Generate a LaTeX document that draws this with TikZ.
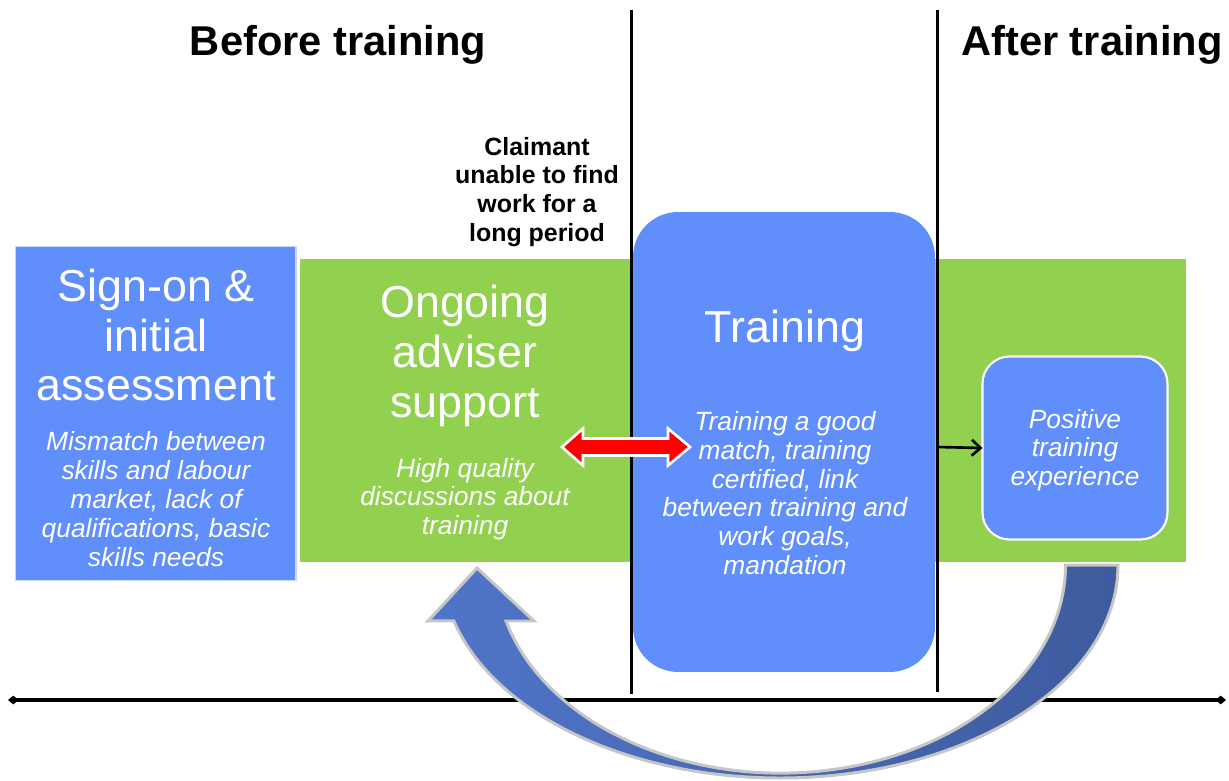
\documentclass[tikz,border=0pt]{standalone}
\usepackage{fontspec}
\setmainfont{Liberation Sans}
\usetikzlibrary{arrows.meta}
\definecolor{bandgreen}{RGB}{146,208,80}
\definecolor{boxblue}{RGB}{96,142,250}
\definecolor{loopleft}{RGB}{80,117,201}
\definecolor{loopright}{RGB}{62,91,158}

\begin{document}
\begin{tikzpicture}[x=0.02cm,y=-0.02cm,
	heading/.style={font=\fontsize{23.7}{28}\selectfont\bfseries},
	title/.style={text=white,align=center,font=\fontsize{25.5}{28.3}\selectfont},
	desc/.style={text=white,align=center,font=\fontsize{15}{16.4}\selectfont\itshape},
	note/.style={align=center,font=\fontsize{14.2}{16.4}\selectfont\bfseries},
	panel/.style={inner sep=0pt,outer sep=0pt},
	]
			\useasboundingbox (0,0) rectangle (1229,780);
			\def\lw{1.7pt};
			\node[panel, fill=bandgreen, minimum width=17.72cm, minimum height=6.06cm] (band) at (743,410.5) {};
			\node[panel, fill=boxblue, draw=boxblue!35, line width=0.6pt, minimum width=5.62cm, minimum height=6.7cm] (signon) at (155.5,413.5) {};
			\node[panel, fill=boxblue, rounded corners=0.9cm, minimum width=6.04cm, minimum height=9.2cm] (training) at (784,442) {};
			\node[panel, fill=boxblue, draw=white, line width=1.2pt, rounded corners=0.54cm, minimum width=3.7cm, minimum height=3.66cm] (positive) at (1075,448) {};
			\coordinate (lt) at (631,10);
			\coordinate (lb) at (631,694);
			\coordinate (rt) at (937,10);
			\coordinate (rb) at (937,692);
			\draw[line width=\lw] (lt) -- (lb);
			\draw[line width=\lw] (rt) -- (rb);
			\coordinate (axl) at (8,700);
			\coordinate (axr) at (1226,700);
			\draw[line width=2.3pt, {Diamond[length=6pt,width=5pt]}-{Diamond[length=6pt,width=5pt]}] (axl) -- (axr);
			\node[heading] (before) at (338,45) {Before training};
			\node[heading] (after) at (1092,45) {After training};
			\node[note] (claimant) at (537,192) {Claimant\\unable to find\\work for a\\long period};
			\node[title] (signtitle) at (156,335) {Sign-on \&\\initial\\assessment};
			\node[desc] (signdesc) at (156,499) {Mismatch between\\skills and labour\\market, lack of\\qualifications, basic\\skills needs};
			\node[title] (ongoing) at (465,356) {Ongoing\\adviser\\support};
			\node[desc] (ongoingdesc) at (465,499) {High quality\\discussions about\\training};
			\node[title] (traintitle) at (785,331) {Training};
			\node[desc] (traindesc) at (785,493) {Training a good\\match, training\\certified, link\\between training and\\work goals,\\mandation};
			\node[desc] (posdesc) at (1075,450) {Positive\\training\\experience};
			\coordinate (vr) at (937,447);
			\draw[line width=1.5pt, -{Straight Barb[length=5pt,width=9pt]}] (vr) -- (positive.west);
			\draw[fill=red, draw=white, line width=1.5pt] (562,447) -- (583,428.5) -- (583,438.5) -- (668,438.5) -- (668,428.5) -- (690,447) -- (668,465.5) -- (668,455.5) -- (583,455.5) -- (583,465.5) -- cycle;
			\draw[draw=gray!45, line width=1.7pt, left color=loopleft, right color=loopright] (1118,565) arc[start angle=0, end angle=164.8, x radius=338, y radius=213] -- (428,621) -- (477,568) -- (534,621) -- (506,621) arc[start angle=164.4, end angle=0, x radius=285, y radius=208] -- cycle;
			\end{tikzpicture}
\end{document}
